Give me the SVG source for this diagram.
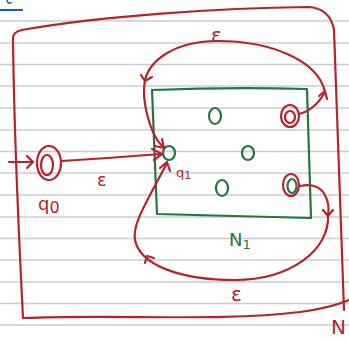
<svg xmlns="http://www.w3.org/2000/svg" width="349" height="342" viewBox="0 0 349 342">
<style>
.rule{stroke:#c9ccd6;stroke-width:1.5}
.red{fill:none;stroke:#b8222d;stroke-width:2.2;stroke-linecap:round;stroke-linejoin:round}
.grn{fill:none;stroke:#23773a;stroke-width:2.2;stroke-linecap:round;stroke-linejoin:round}
.tr{fill:#b8222d;font-family:"DejaVu Sans",sans-serif}
.tg{fill:#23773a;font-family:"DejaVu Sans",sans-serif}
</style>
<rect width="349" height="342" fill="#ffffff"/>
<g id="paper">
<line class="rule" x1="0" y1="21" x2="349" y2="21"/>
<line class="rule" x1="0" y1="43" x2="349" y2="43"/>
<line class="rule" x1="0" y1="64.5" x2="349" y2="64.5"/>
<line class="rule" x1="0" y1="86" x2="349" y2="86"/>
<line class="rule" x1="0" y1="108" x2="349" y2="108"/>
<line class="rule" x1="0" y1="130" x2="349" y2="130"/>
<line class="rule" x1="0" y1="151.5" x2="349" y2="151.5"/>
<line class="rule" x1="0" y1="173" x2="349" y2="173"/>
<line class="rule" x1="0" y1="195" x2="349" y2="195"/>
<line class="rule" x1="0" y1="217" x2="349" y2="217"/>
<line class="rule" x1="0" y1="238.5" x2="349" y2="238.5"/>
<line class="rule" x1="0" y1="260" x2="349" y2="260"/>
<line class="rule" x1="0" y1="282" x2="349" y2="282"/>
<line class="rule" x1="0" y1="303.5" x2="349" y2="303.5"/>
<line class="rule" x1="0" y1="325" x2="349" y2="325"/>
<path d="M0 10 L23 10" fill="none" stroke="#2a56b8" stroke-width="2"/>
<path d="M7 0 Q8 5 12 2" fill="none" stroke="#2a56b8" stroke-width="1.5"/>
</g>
<g id="frame">
<path class="red" d="M13 40 Q12 32 22 30 C100 16 220 8 308 7 Q330 8 334 30 L344 310"/>
<path class="red" d="M13 40 C14 120 18 220 23 318 C120 314 220 322 300 312 Q330 308 349 300"/>
<text class="tr" x="331" y="334" font-size="20">N</text>
</g>
<g id="N1">
<path class="grn" d="M152 90 Q230 87 307 89 L311 218 Q240 216 157 214 Z"/>
<text class="tg" x="229" y="246" font-size="18">N<tspan font-size="13" dy="3">1</tspan></text>
</g>
<g id="q0">
<ellipse class="red" cx="49" cy="163" rx="12" ry="17"/>
<ellipse class="red" cx="47" cy="165" rx="6" ry="10"/>
<text class="tr" x="38" y="210" font-size="18">q<tspan font-size="16" dy="3">0</tspan></text>
</g>
<g id="q1">
<ellipse class="grn" cx="169" cy="153" rx="6" ry="7"/>
<text class="tr" x="176" y="177" font-size="13">q<tspan font-size="11" dy="2">1</tspan></text>
</g>
<g id="s2"><ellipse class="grn" cx="215" cy="116" rx="6" ry="8"/></g>
<g id="s3"><ellipse class="grn" cx="248" cy="153" rx="6" ry="7"/></g>
<g id="s4"><ellipse class="grn" cx="222" cy="188" rx="6" ry="8"/></g>
<g id="f1">
<ellipse class="red" cx="290" cy="116" rx="9" ry="11"/>
<ellipse class="red" cx="290" cy="117" rx="5" ry="6"/>
</g>
<g id="f2">
<ellipse class="red" cx="291" cy="185" rx="8" ry="11"/>
<ellipse class="grn" cx="292" cy="186" rx="4.5" ry="7"/>
</g>
<g id="connectors">
<path class="red" d="M9 162 L32 162"/>
<path class="red" d="M27 156 L33 162 L27 168"/>
<path class="red" d="M62 161 Q110 158 161 154"/>
<path class="red" d="M152 149 L162 154 L154 160"/>
<text class="tr" x="97" y="186" font-size="18">ε</text>
<path class="red" d="M299 114 Q315 110 325 92 C318 60 270 41 218 41 C175 41 150 60 145 80 C141 100 150 135 163 147"/>
<path class="red" d="M319 96 L325 91 L327 99"/>
<path class="red" d="M141 75 L145 81 L152 77"/>
<path class="red" d="M155 146 L164 148 L162 139"/>
<text class="tr" x="211" y="42" font-size="20">ε</text>
<path class="red" d="M300 186 Q318 182 325 195 Q330 205 328 215 C330 250 290 280 235 280 C180 280 140 265 135 240 C132 225 145 205 167 163"/>
<path class="red" d="M323 210 L328 216 L333 210"/>
<path class="red" d="M145 263 L147 256 L154 258"/>
<path class="red" d="M160 168 L167 162 L170 171"/>
<text class="tr" x="231" y="301" font-size="20">ε</text>
</g>
</svg>
